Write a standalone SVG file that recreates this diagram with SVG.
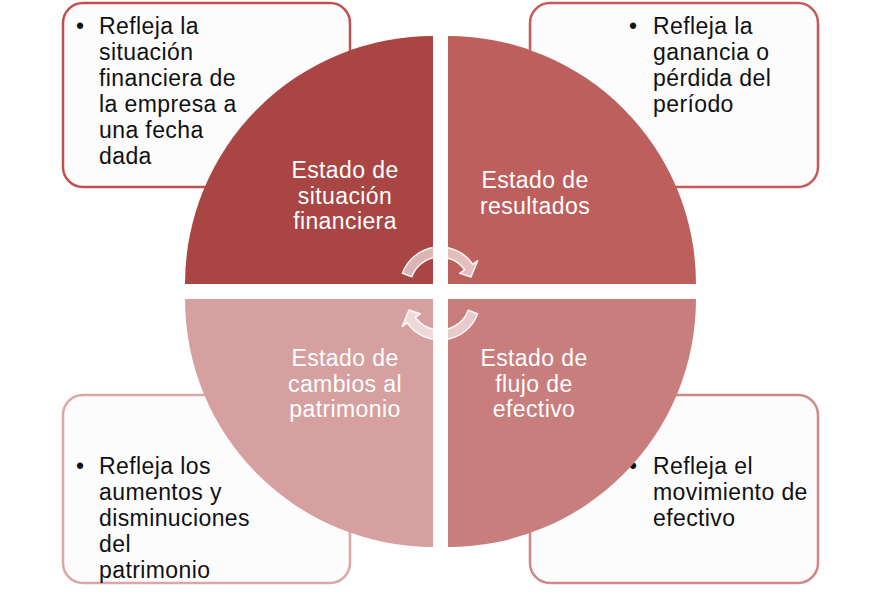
<svg xmlns="http://www.w3.org/2000/svg" width="879" height="599" viewBox="0 0 879 599">
<style>
.box{fill:#FCFCFC;stroke-width:2.5}
.bt{font-family:"Liberation Sans",Arial,sans-serif;font-size:23px;letter-spacing:0.4px;fill:#111}
.ct{font-family:"Liberation Sans",Arial,sans-serif;font-size:23px;letter-spacing:0.4px;fill:#fff;text-anchor:middle}
.arr{fill:#fff;fill-opacity:0.6;stroke:#fff;stroke-opacity:0.9;stroke-width:1.5;stroke-linejoin:round}
</style>
<rect width="879" height="599" fill="#fff"/>
<g id="box-tl">
<rect class="box" x="63" y="3" width="287" height="184" rx="20" stroke="#C0504D"/>
<text class="bt"><tspan x="76" y="34">•</tspan><tspan x="99" y="34">Refleja la</tspan><tspan x="99" y="60">situación</tspan><tspan x="99" y="86">financiera de</tspan><tspan x="99" y="112">la empresa a</tspan><tspan x="99" y="138">una fecha</tspan><tspan x="99" y="164">dada</tspan></text>
</g>
<g id="box-tr">
<rect class="box" x="530" y="3" width="288" height="184" rx="20" stroke="#C55A58"/>
<text class="bt"><tspan x="629" y="34">•</tspan><tspan x="653" y="34">Refleja la</tspan><tspan x="653" y="60">ganancia o</tspan><tspan x="653" y="86">pérdida del</tspan><tspan x="653" y="112">período</tspan></text>
</g>
<g id="box-bl">
<rect class="box" x="63" y="395" width="287" height="188" rx="20" stroke="#DCA6A6"/>
<text class="bt"><tspan x="76" y="474">•</tspan><tspan x="99" y="474">Refleja los</tspan><tspan x="99" y="500">aumentos y</tspan><tspan x="99" y="526">disminuciones</tspan><tspan x="99" y="552">del</tspan><tspan x="99" y="578">patrimonio</tspan></text>
</g>
<g id="box-br">
<rect class="box" x="530" y="395" width="288" height="188" rx="20" stroke="#D08787"/>
<text class="bt"><tspan x="629" y="474">•</tspan><tspan x="653" y="474">Refleja el</tspan><tspan x="653" y="500">movimiento de</tspan><tspan x="653" y="526">efectivo</tspan></text>
</g>
<g id="q-tl">
<path d="M433,284 L185,284 A248,248 0 0 1 433,36 Z" fill="#A94543"/>
<text class="ct"><tspan x="345" y="178">Estado de</tspan><tspan x="345" y="204">situación</tspan><tspan x="345" y="229">financiera</tspan></text>
</g>
<g id="q-tr">
<path d="M448,284 L448,36 A248,248 0 0 1 696,284 Z" fill="#BD5F5C"/>
<text class="ct"><tspan x="535" y="188">Estado de</tspan><tspan x="535" y="214">resultados</tspan></text>
</g>
<g id="q-br">
<path d="M448,299 L696,299 A248,248 0 0 1 448,547 Z" fill="#C87E7D"/>
<text class="ct"><tspan x="534" y="366">Estado de</tspan><tspan x="534" y="392">flujo de</tspan><tspan x="534" y="417">efectivo</tspan></text>
</g>
<g id="q-bl">
<path d="M433,299 L433,547 A248,248 0 0 1 185,299 Z" fill="#D6A0A0"/>
<text class="ct"><tspan x="345" y="366">Estado de</tspan><tspan x="345" y="392">cambios al</tspan><tspan x="345" y="417">patrimonio</tspan></text>
</g>
<g id="connectors">
<path id="arrow-top" class="arr" d="M402.4,273.3 A40,40 0 0 1 472.8,264.1 L477.7,260.6 L471,277 L459.7,273.2 L464.6,269.8 A30,30 0 0 0 411.8,276.7 Z"/>
<path id="arrow-bottom" class="arr" transform="rotate(180 440 293.5)" d="M402.4,273.3 A40,40 0 0 1 472.8,264.1 L477.7,260.6 L471,277 L459.7,273.2 L464.6,269.8 A30,30 0 0 0 411.8,276.7 Z"/>
</g>
</svg>
